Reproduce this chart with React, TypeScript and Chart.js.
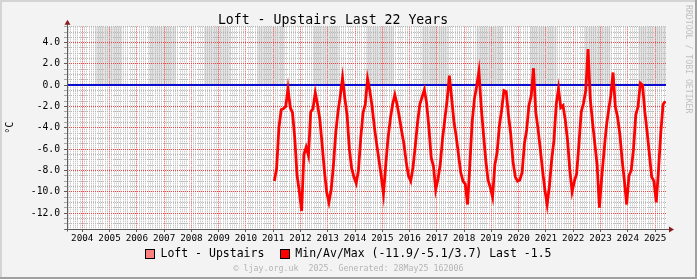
import React, { useEffect, useRef } from 'react';
import { Chart, registerables } from 'chart.js';

Chart.register(...registerables);

// ---------- text ----------
const TITLE = 'Loft - Upstairs Last 22 Years';
const Y_TITLE = '°C';
const LEGEND_LABELS = ['Loft - Upstairs', 'Min/Av/Max (-11.9/-5.1/3.7) Last -1.5'];
const LEGEND_COLORS = ['#ff8080', '#ff0000'];
const FOOTER = '© ljay.org.uk  2025. Generated: 28May25 162006';
const WATERMARK = 'RRDTOOL / TOBI OETIKER';

// ---------- axes ----------
const YEAR_LABELS = ['2004', '2005', '2006', '2007', '2008', '2009', '2010', '2011', '2012', '2013', '2014',
  '2015', '2016', '2017', '2018', '2019', '2020', '2021', '2022', '2023', '2024', '2025'];
const Y_TICK_VALUES = [4, 2, 0, -2, -4, -6, -8, -10, -12];
const X_MIN = 2003.44;
const X_MAX = 2025.40;
const Y_MIN = -13.5;
const Y_MAX = 5.5;
const ZERO_RULE = 0;

// ---------- shaded bands (years) ----------
const BAND_STARTS = [2004.48, 2006.46, 2008.46, 2010.43, 2012.45, 2014.44, 2016.44, 2018.46, 2020.41, 2022.43, 2024.38];
const BAND_ENDS = [2005.47, 2007.43, 2009.45, 2011.40, 2013.42, 2015.42, 2017.42, 2019.43, 2021.39, 2023.36, 2025.40];

// ---------- monthly temperatures (°C) ----------
const SERIES_START_YEAR = 2011;
const temps2011 = [-9.0, -7.8, -4.0, -2.3, -2.2, -2.0, -0.3, -2.1, -2.6, -5.0, -8.5, -10.0];
const temps2012 = [-11.8, -6.5, -5.8, -6.6, -2.5, -2.2, -0.7, -1.8, -3.2, -5.5, -8.0, -10.0];
const temps2013 = [-11.0, -9.8, -7.5, -4.5, -2.5, -1.0, 0.7, -1.2, -2.8, -6.0, -7.8, -8.6];
const temps2014 = [-9.2, -8.0, -5.0, -2.6, -1.8, 0.6, -0.5, -2.0, -3.9, -5.5, -7.0, -8.5];
const temps2015 = [-10.2, -7.5, -5.0, -3.2, -1.8, -0.9, -1.8, -3.0, -4.3, -5.5, -7.2, -8.5];
const temps2016 = [-9.0, -7.7, -5.7, -3.5, -1.8, -1.1, -0.4, -1.7, -4.0, -6.8, -7.6, -9.8];
const temps2017 = [-8.8, -7.4, -5.0, -3.2, -1.4, 0.9, -1.2, -3.4, -4.8, -6.5, -8.2, -9.0];
const temps2018 = [-9.3, -11.2, -7.5, -3.5, -1.3, -0.1, 1.3, -2.0, -4.6, -7.0, -8.9, -9.6];
const temps2019 = [-10.5, -7.5, -6.3, -3.8, -2.3, -0.5, -0.6, -2.8, -4.6, -7.2, -8.6, -9.0];
const temps2020 = [-8.9, -8.2, -5.5, -4.2, -1.9, -1.0, 1.6, -2.5, -4.1, -6.0, -8.0, -9.8];
const temps2021 = [-11.2, -9.5, -7.0, -5.2, -1.8, -0.3, -2.1, -1.9, -3.3, -5.2, -8.0, -10.0];
const temps2022 = [-9.0, -8.3, -5.5, -2.5, -1.7, -0.5, 3.4, -1.3, -3.5, -5.5, -7.5, -11.5];
const temps2023 = [-8.7, -6.3, -4.0, -2.4, -1.0, 1.2, -2.0, -3.0, -4.6, -7.0, -9.0, -11.2];
const temps2024 = [-8.5, -8.0, -6.0, -2.8, -2.0, 0.2, 0.0, -2.5, -4.4, -6.5, -8.6, -9.0];
const temps2025 = [-11.0, -8.0, -4.5, -1.8, -1.5];
const YEARLY_TEMPS = [temps2011, temps2012, temps2013, temps2014, temps2015, temps2016, temps2017,
  temps2018, temps2019, temps2020, temps2021, temps2022, temps2023, temps2024, temps2025];

// ---------- styles ----------
const MONO = "'DejaVu Sans Mono', monospace";
const MAJOR_GRID = '#ee4545';
const MINOR_GRID = '#b6b6b6';
const AXIS_COLOR = '#5c5c5c';
const ARROW_COLOR = '#8b1c1c';

const isInt = (v: number) => Math.abs(v - Math.round(v)) < 1e-6;
const isMajorY = (v: number) => Math.abs(v / 2 - Math.round(v / 2)) < 1e-6;

const rrdPlugin = {
  id: 'rrdDecor',
  beforeDraw(chart: any) {
    const { ctx, chartArea, scales } = chart;
    const W = chart.width, H = chart.height;
    ctx.save();
    ctx.fillStyle = '#f3f3f3';
    ctx.fillRect(0, 0, W, H);
    // frame shading
    ctx.fillStyle = '#d4d4d4';
    ctx.fillRect(0, 0, W, 2);
    ctx.fillRect(0, 0, 2, H);
    ctx.fillStyle = '#a0a0a0';
    ctx.fillRect(0, H - 2, W, 2);
    ctx.fillRect(W - 2, 0, 2, H);
    // plot background
    ctx.fillStyle = '#ffffff';
    ctx.fillRect(chartArea.left, chartArea.top, chartArea.right - chartArea.left, chartArea.bottom - chartArea.top);
    // shaded bands above zero
    ctx.beginPath();
    ctx.rect(chartArea.left, chartArea.top, chartArea.right - chartArea.left, chartArea.bottom - chartArea.top);
    ctx.clip();
    ctx.fillStyle = '#e2e2e2';
    const y0 = scales.y.getPixelForValue(ZERO_RULE);
    BAND_STARTS.forEach((s, i) => {
      const x1 = scales.x.getPixelForValue(s);
      const x2 = scales.x.getPixelForValue(BAND_ENDS[i]);
      ctx.fillRect(x1, chartArea.top, x2 - x1, y0 - chartArea.top);
    });
    ctx.restore();
  },
  beforeDatasetsDraw(chart: any) {
    const { ctx, chartArea, scales } = chart;
    const y0 = Math.round(scales.y.getPixelForValue(ZERO_RULE));
    ctx.save();
    ctx.strokeStyle = '#0a0ad0';
    ctx.lineWidth = 2;
    ctx.beginPath();
    ctx.moveTo(chartArea.left, y0);
    ctx.lineTo(chartArea.right, y0);
    ctx.stroke();
    ctx.restore();
  },
  afterDraw(chart: any) {
    const { ctx, chartArea } = chart;
    const W = chart.width;
    const L = Math.round(chartArea.left) + 0.5;
    const B = Math.round(chartArea.bottom) + 0.5;
    const T = chartArea.top;
    const R = chartArea.right;
    ctx.save();
    // axes
    ctx.strokeStyle = AXIS_COLOR;
    ctx.lineWidth = 1;
    ctx.beginPath();
    ctx.moveTo(L, B + 2);
    ctx.lineTo(L, T - 3);
    ctx.moveTo(L - 3, B);
    ctx.lineTo(R + 4, B);
    ctx.stroke();
    // arrows
    ctx.fillStyle = ARROW_COLOR;
    ctx.beginPath();
    ctx.moveTo(L, T - 7);
    ctx.lineTo(L - 3, T - 2);
    ctx.lineTo(L + 3, T - 2);
    ctx.closePath();
    ctx.fill();
    ctx.beginPath();
    ctx.moveTo(R + 8, B);
    ctx.lineTo(R + 3, B - 3);
    ctx.lineTo(R + 3, B + 3);
    ctx.closePath();
    ctx.fill();

    // legend
    ctx.font = `11.5px ${MONO}`;
    ctx.textBaseline = 'middle';
    ctx.textAlign = 'left';
    const widths = LEGEND_LABELS.map((t) => ctx.measureText(t).width);
    const gap = 16;
    const total = widths.reduce((a, w) => a + 15 + w, 0) + gap * (LEGEND_LABELS.length - 1);
    let x = (W - total) / 2;
    const cy = 254;
    LEGEND_LABELS.forEach((label, i) => {
      const bx = Math.round(x);
      ctx.fillStyle = LEGEND_COLORS[i];
      ctx.fillRect(bx, cy - 5, 10, 10);
      ctx.strokeStyle = '#000';
      ctx.lineWidth = 1;
      ctx.strokeRect(bx + 0.5, cy - 4.5, 9, 9);
      ctx.fillStyle = '#000';
      ctx.fillText(label, x + 15, cy + 0.5);
      x += 15 + widths[i] + gap;
    });

    // footer
    ctx.font = `8.3px ${MONO}`;
    ctx.fillStyle = '#b4b4b4';
    ctx.textAlign = 'center';
    ctx.fillText(FOOTER, W / 2, 269);

    // watermark
    ctx.translate(W - 9, 5);
    ctx.rotate(Math.PI / 2);
    ctx.textAlign = 'left';
    ctx.textBaseline = 'middle';
    ctx.font = `8.2px ${MONO}`;
    ctx.fillStyle = '#c0c0c0';
    ctx.fillText(WATERMARK, 0, 0);
    ctx.restore();
  },
};

export default function App() {
  const canvasRef = useRef<HTMLCanvasElement | null>(null);

  useEffect(() => {
    if (!canvasRef.current) return;
    const points: { x: number; y: number }[] = [];
    YEARLY_TEMPS.forEach((arr, k) => {
      arr.forEach((v, i) => {
        points.push({ x: SERIES_START_YEAR + k + (i + 0.5) / 12, y: v });
      });
    });

    const chart = new Chart(canvasRef.current, {
      type: 'line',
      data: {
        datasets: [
          {
            label: LEGEND_LABELS[1],
            data: points,
            borderColor: '#ff0000',
            backgroundColor: '#ff0000',
            borderWidth: 2.8,
            pointRadius: 0,
            tension: 0,
            fill: false,
          },
        ],
      },
      options: {
        responsive: false,
        animation: false,
        devicePixelRatio: 1,
        layout: { padding: { top: 0.5, right: 31, left: 0, bottom: 0 } },
        plugins: {
          legend: { display: false },
          tooltip: { enabled: false },
          title: {
            display: true,
            text: TITLE,
            color: '#000',
            font: { family: MONO, size: 13.2, lineHeight: 1, weight: 'normal' },
            padding: { top: 13, bottom: 0 },
          },
        },
        scales: {
          x: {
            type: 'linear',
            min: X_MIN,
            max: X_MAX,
            bounds: 'data',
            afterBuildTicks: (scale: any) => {
              const t: { value: number }[] = [];
              for (let y = 2003; y <= 2025; y++) {
                for (let m = 0; m < 12; m++) {
                  const v = y + m / 12;
                  if (v >= X_MIN && v <= X_MAX) t.push({ value: v });
                }
              }
              scale.ticks = t;
            },
            afterFit: (scale: any) => {
              scale.height = 50;
            },
            grid: {
              color: (c: any) => (isInt(c.tick.value) ? MAJOR_GRID : MINOR_GRID),
              lineWidth: 1,
              drawTicks: true,
              tickLength: 3,
              tickColor: (c: any) => (isInt(c.tick.value) ? AXIS_COLOR : 'rgba(0,0,0,0)'),
            },
            border: { display: false, dash: [1, 1] },
            ticks: {
              autoSkip: false,
              maxRotation: 0,
              minRotation: 0,
              padding: 1,
              color: '#000',
              font: { family: MONO, size: 9.3 },
              callback: (v: any) => {
                const n = Number(v);
                if (!isInt(n)) return '';
                const s = String(Math.round(n));
                return YEAR_LABELS.includes(s) ? s : '';
              },
            },
          },
          y: {
            type: 'linear',
            min: Y_MIN,
            max: Y_MAX,
            bounds: 'data',
            afterBuildTicks: (scale: any) => {
              const t: { value: number }[] = [];
              for (let v = Y_MIN; v <= Y_MAX + 1e-9; v += 0.5) t.push({ value: v });
              scale.ticks = t;
            },
            afterFit: (scale: any) => {
              scale.width = 67;
            },
            grid: {
              color: (c: any) => (isMajorY(c.tick.value) ? MAJOR_GRID : MINOR_GRID),
              lineWidth: 1,
              drawTicks: true,
              tickLength: 3,
              tickColor: (c: any) => (isMajorY(c.tick.value) ? AXIS_COLOR : '#a8a8a8'),
            },
            border: { display: false, dash: [1, 1] },
            ticks: {
              autoSkip: false,
              padding: 4,
              color: '#000',
              font: { family: MONO, size: 9.7 },
              callback: (v: any) => {
                const n = Number(v);
                return Y_TICK_VALUES.some((t) => Math.abs(t - n) < 1e-6) ? n.toFixed(1) : '';
              },
            },
            title: {
              display: true,
              text: Y_TITLE,
              color: '#000',
              font: { family: MONO, size: 10 },
              padding: { top: 4, bottom: 0 },
            },
          },
        },
      },
      plugins: [rrdPlugin],
    } as any);

    return () => chart.destroy();
  }, []);

  return (
    <div style={{ position: 'absolute', left: 0, top: 0, width: 697, height: 279 }}>
      <canvas ref={canvasRef} width={697} height={279} style={{ width: 697, height: 279, display: 'block' }} />
    </div>
  );
}
